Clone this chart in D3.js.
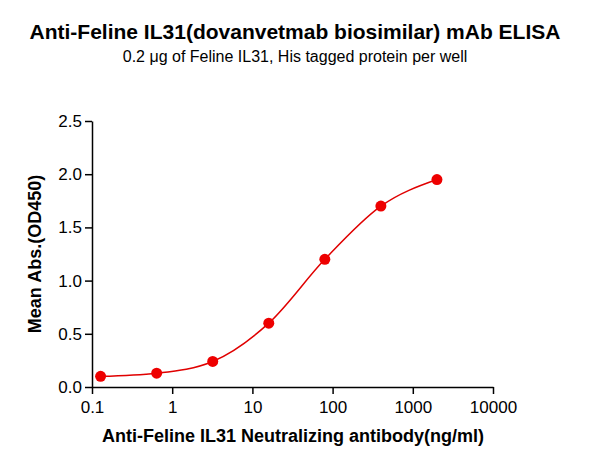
<!DOCTYPE html>
<html><head><meta charset="utf-8">
<script src="https://cdn.jsdelivr.net/npm/d3@7"></script>
<style>body{margin:0;background:#fff}svg text{font-family:Arial,"Liberation Sans",sans-serif}</style>
</head><body>
<svg id="c" width="590" height="465"></svg>
<script>
const concentrations = [0.128, 0.64, 3.2, 16, 80, 400, 2000];
const absorbance = [0.10, 0.13, 0.24, 0.60, 1.20, 1.70, 1.95];
const xTicks = [0.1, 1, 10, 100, 1000, 10000];
const yTicks = [0, 0.5, 1.0, 1.5, 2.0, 2.5];

const svg = d3.select("#c");
const x = d3.scaleLog().domain([0.1, 10000]).range([92, 493]);
const y = d3.scaleLinear().domain([0, 2.5]).range([387, 121]);

svg.append("text").attr("x", 295).attr("y", 39).attr("text-anchor", "middle")
  .attr("font-size", 21).attr("font-weight", "bold").text("Anti-Feline IL31(dovanvetmab biosimilar) mAb ELISA");
svg.append("text").attr("x", 295).attr("y", 62).attr("text-anchor", "middle")
  .attr("font-size", 16).text("0.2 μg of  Feline IL31, His tagged protein per well");

const xa = svg.append("g").attr("transform", "translate(0,387)")
  .call(d3.axisBottom(x).tickValues(xTicks).tickFormat(d => String(d)).tickSize(7).tickSizeOuter(0));
const ya = svg.append("g").attr("transform", "translate(92,0)")
  .call(d3.axisLeft(y).tickValues(yTicks).tickFormat(d3.format(".1f")).tickSize(7).tickSizeOuter(0));
[xa, ya].forEach(a => {
  a.selectAll("path,line").attr("stroke", "#000").attr("stroke-width", 1.5);
  a.selectAll("text").attr("font-size", 17).attr("fill", "#000");
});
xa.selectAll("text").attr("dy", "0.95em");

svg.append("text").attr("x", 293).attr("y", 442).attr("text-anchor", "middle")
  .attr("font-size", 18).attr("font-weight", "bold").text("Anti-Feline IL31 Neutralizing antibody(ng/ml)");
svg.append("text").attr("transform", "translate(41,254) rotate(-90)").attr("text-anchor", "middle")
  .attr("font-size", 18).attr("font-weight", "bold").text("Mean Abs.(OD450)");

const pts = concentrations.map((c, i) => [x(c), y(absorbance[i])]);
svg.append("path").attr("d", d3.line().curve(d3.curveMonotoneX)(pts))
  .attr("fill", "none").attr("stroke", "#e00000").attr("stroke-width", 1.5);
svg.selectAll("circle").data(pts).join("circle")
  .attr("cx", d => d[0]).attr("cy", d => d[1]).attr("r", 5.5).attr("fill", "#ee0000");
</script>
</body></html>
